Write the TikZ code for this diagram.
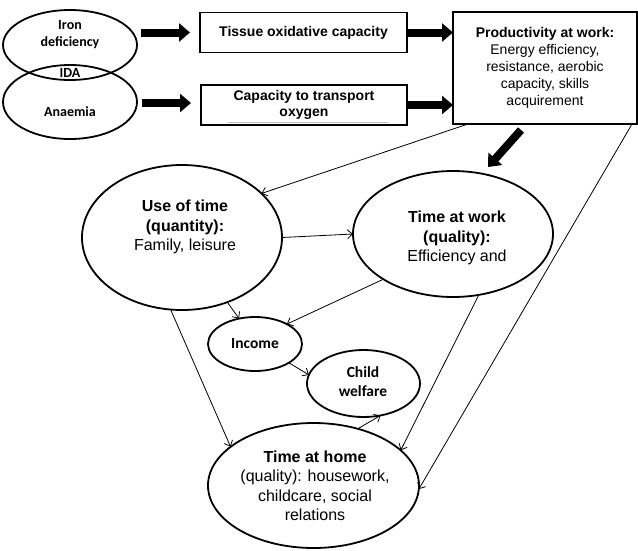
\documentclass[tikz,border=0pt]{standalone}
\usepackage{fontspec}
\setmainfont{Liberation Sans}
\newfontfamily\calib{Carlito}
\usetikzlibrary{shapes.geometric,arrows.meta,calc}
\begin{document}
\begin{tikzpicture}[x=1pt,y=-1pt,
  ell/.style={draw,ellipse,line width=1.8pt,inner sep=0pt,outer sep=0pt},
  box/.style={draw,rectangle,line width=1.8pt,inner sep=0pt,outer sep=0pt,align=center},
  txt/.style={align=center,inner sep=0pt},
  calfont/.style={font=\calib\bfseries\fontsize{14}{17}\selectfont},
  calbig/.style={font=\calib\bfseries\fontsize{15.5}{19}\selectfont},
  elltext/.style={txt,font=\fontsize{16}{19.5}\selectfont},
  conn/.style={line width=0.8pt,-{Straight Barb[length=5pt,width=9pt]}},
  bigarrow/.style={line width=8pt,-{Triangle[length=11pt,width=18pt]}},
]
\useasboundingbox (0,0) rectangle (638,550);

% Venn diagram
\node[ell,minimum width=134pt,minimum height=70pt] (iron) at (70,45) {};
\node[ell,minimum width=134pt,minimum height=74pt] (anae) at (70,102) {};
\node[txt,calfont] (irontxt) at (70,35) {Iron\\deficiency};
\node[txt,calfont] (ida) at (70,73) {IDA};
\node[txt,calfont] (anaetxt) at (70,112) {Anaemia};

% Boxes
\node[box,minimum width=207pt,minimum height=40pt,font=\bfseries\fontsize{14}{17}\selectfont] (tissue) at (303.5,32.5) {Tissue oxidative capacity};
\node[box,minimum width=206pt,minimum height=40pt,font=\bfseries\fontsize{14}{15.5}\selectfont] (transp) at (304,105) {Capacity to transport\\oxygen};
\node[box,minimum width=184pt,minimum height=112pt,font=\fontsize{14}{17}\selectfont] (prod) at (545,68) {\textbf{Productivity at work:}\\Energy efficiency,\\resistance, aerobic\\capacity, skills\\acquirement};
\draw[black!25,line width=0.8pt] ([xshift=-76pt,yshift=-17pt]transp.center) -- ([xshift=84pt,yshift=-17pt]transp.center);

% Ellipses
\node[ell,minimum width=200pt,minimum height=145pt] (use) at (182,237.5) {};
\node[ell,minimum width=200pt,minimum height=126pt] (work) at (453,234) {};
\node[ell,minimum width=94pt,minimum height=54pt] (inc) at (255,344) {};
\node[ell,minimum width=113pt,minimum height=67pt] (child) at (363.5,383.5) {};
\node[ell,minimum width=211pt,minimum height=125pt] (home) at (313.5,485.5) {};

\node[elltext] (usetxt) at (185,227) {\textbf{Use of time}\\\textbf{(quantity):}\\Family, leisure};
\node[elltext] (worktxt) at (457,238) {\textbf{Time at work}\\\textbf{(quality):}\\Efficiency and};
\node[txt,calbig] (inctxt) at (255,344) {Income};
\node[txt,calbig] (childtxt) at (363,382) {Child\\welfare};
\node[elltext] (hometxt) at (315,486) {\textbf{Time at home}\\(quality): housework,\\childcare, social\\relations};

% Thick arrows
\draw[bigarrow] ([xshift=-59pt]tissue.west) -- ([xshift=-10pt]tissue.west);
\draw[bigarrow] ([xshift=-59pt,yshift=2pt]transp.west) -- ([xshift=-10pt,yshift=2pt]transp.west);
\draw[bigarrow] (tissue.east) -- (tissue.east -| prod.west);
\draw[bigarrow] (transp.east) -- (transp.east -| prod.west);
\draw[bigarrow] ([xshift=-24pt,yshift=-6pt]prod.south) -- ([xshift=35pt,yshift=4pt]work.north);

% Thin connectors
\draw[conn] ([xshift=15pt]prod.south west) -- (use.29);
\draw[conn] ([xshift=-5pt]prod.south east) -- (home.-2);
\draw[conn] (use.0) -- (work.180);
\draw[conn] (use.-55) -- (inc.122);
\draw[conn] (work.213) -- (inc.32);
\draw[conn] (use.261) -- (home.155);
\draw[conn] (inc.-29) -- (child.171);
\draw[conn] (home.52) -- (child.-62);
\draw[conn] (work.-67) -- (home.22);
\end{tikzpicture}
\end{document}
